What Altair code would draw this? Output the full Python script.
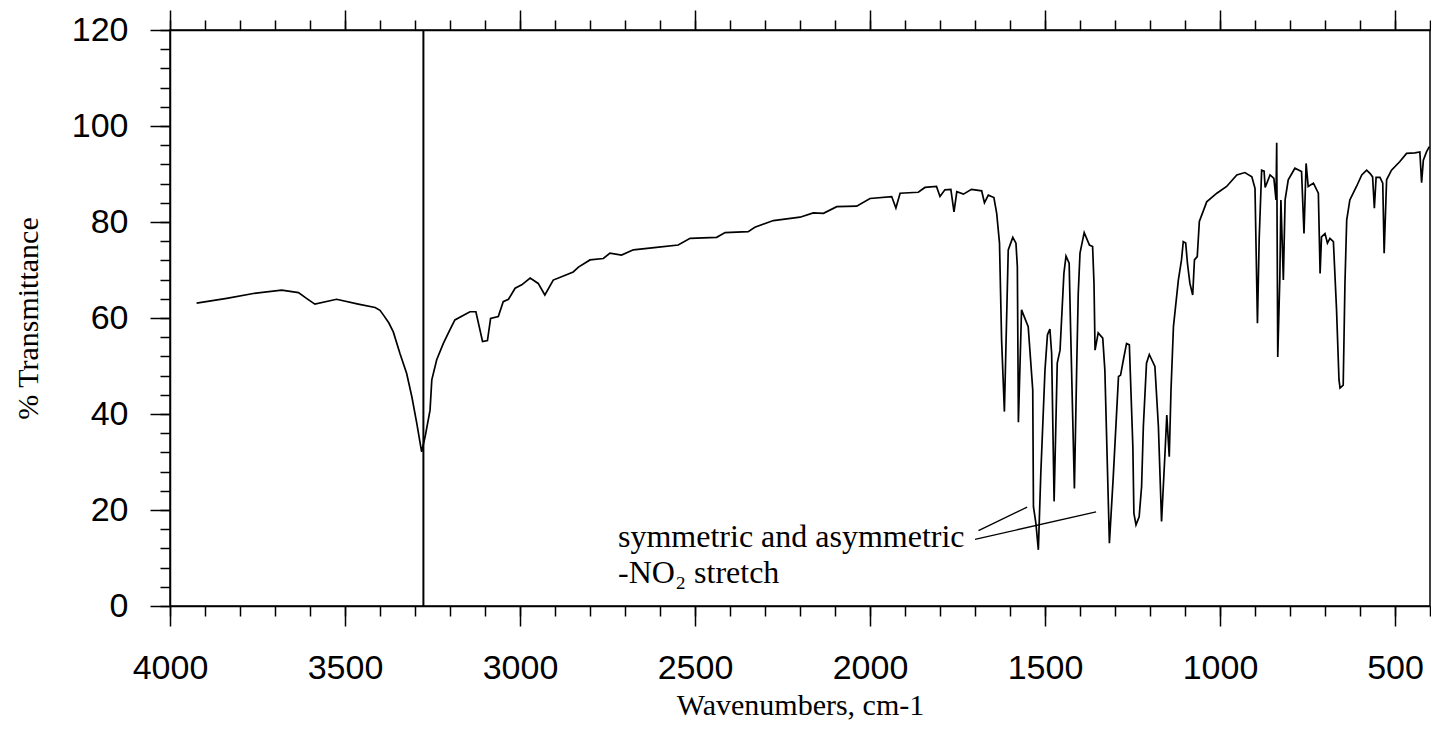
import altair as alt
import pandas as pd

# Spectrum: wavenumber (cm-1) and % transmittance
wavenumbers = [3924, 3838, 3762, 3681, 3633, 3610, 3586, 3524, 3462, 3414, 3400, 3390, 3375, 3362, 3343, 3324, 3309, 3295,
               3281, 3271, 3257, 3252, 3238, 3219, 3200, 3186, 3143, 3126, 3107, 3093, 3084, 3062, 3048, 3033, 3014,
               2995, 2971, 2948, 2929, 2905, 2876, 2848, 2833, 2800, 2762, 2743, 2710, 2676, 2610, 2548, 2514,
               2438, 2414, 2348, 2329, 2276, 2200, 2162, 2133, 2095, 2038, 2000, 1938, 1926, 1914, 1862, 1843,
               1810, 1800, 1786, 1769, 1760, 1752, 1733, 1710, 1681, 1673, 1662, 1646, 1638, 1630, 1624, 1616,
               1605, 1592, 1583, 1579, 1576, 1567, 1548, 1535, 1533, 1526, 1519, 1512, 1500, 1493, 1486, 1481,
               1474, 1465, 1457, 1446, 1440, 1431, 1427, 1416, 1409, 1405, 1400, 1388, 1373, 1364, 1360, 1357,
               1348, 1335, 1329, 1316, 1305, 1290, 1284, 1276, 1267, 1259, 1249, 1246, 1240, 1231, 1224, 1219,
               1210, 1202, 1195, 1186, 1176, 1167, 1157, 1152, 1145, 1140, 1133, 1119, 1110, 1105, 1098, 1093,
               1086, 1078, 1073, 1065, 1059, 1038, 1009, 981, 952, 929, 909, 900, 893, 888, 881, 874,
               871, 857, 846, 840, 838, 835, 829, 826, 819, 814, 805, 786, 767, 760, 754, 748,
               733, 719, 714, 710, 700, 693, 686, 676, 667, 660, 657, 648, 643, 638, 629, 610,
               595, 581, 571, 564, 559, 554, 543, 535, 531, 524, 510, 486, 467, 443, 429, 424,
               419, 410, 402]
transmittance = [63.1, 64.1, 65.1, 65.8, 65.3, 64.1, 62.9, 63.9, 62.9, 62.2, 61.6, 60.6, 59.0, 57.1, 52.6, 48.5, 43.6, 38.1,
                 32.1, 35.3, 40.8, 47.1, 51.3, 54.7, 57.6, 59.6, 61.3, 61.3, 55.1, 55.3, 59.9, 60.3, 63.4, 63.9, 66.2,
                 66.9, 68.3, 67.2, 64.8, 67.9, 68.75, 69.6, 70.6, 72.1, 72.4, 73.5, 73.1, 74.2, 74.7, 75.2, 76.6,
                 76.8, 77.8, 78.0, 78.9, 80.3, 81.0, 81.9, 81.8, 83.2, 83.3, 84.9, 85.3, 82.9, 86.0, 86.2, 87.2,
                 87.4, 85.3, 86.7, 86.8, 82.1, 86.3, 85.8, 86.8, 86.5, 84.0, 85.6, 85.1, 81.8, 75.6, 55.4, 40.5,
                 74.2, 76.8, 75.6, 70.7, 38.3, 61.7, 58.2, 45.0, 20.7, 17.2, 11.7, 27.6, 49.2, 56.5, 57.7, 52.6,
                 21.8, 50.6, 53.3, 69.3, 72.9, 71.4, 58.2, 24.5, 51.3, 65.1, 73.5, 77.8, 75.2, 74.9, 67.2, 53.3,
                 56.9, 55.8, 49.2, 13.1, 26.9, 47.8, 48.1, 51.3, 54.7, 54.4, 33.2, 19.3, 16.9, 18.6, 24.9, 37.4,
                 50.6, 52.4, 51.3, 49.9, 37.4, 17.6, 32.1, 39.8, 31.1, 45.0, 58.2, 67.9, 72.1, 75.9, 75.6, 71.4,
                 67.2, 64.8, 72.1, 72.8, 80.1, 84.2, 86.0, 87.4, 89.8, 90.3, 89.4, 87.0, 58.9, 76.6, 90.8, 90.6,
                 87.2, 89.8, 89.1, 84.6, 96.5, 51.9, 68.6, 84.6, 67.9, 84.6, 88.8, 91.2, 90.5, 77.6, 92.2, 87.4,
                 88.1, 86.0, 69.3, 76.9, 77.6, 75.6, 76.6, 75.9, 61.7, 47.1, 45.4, 46.0, 67.2, 80.4, 84.6, 87.4,
                 89.8, 90.8, 90.1, 89.4, 82.9, 89.3, 89.3, 88.1, 73.5, 88.8, 90.8, 92.6, 94.3, 94.4, 94.6, 88.2,
                 92.9, 94.6, 95.7]

# Full-height marker line
marker_wn = [3276]
marker_lo = [0]
marker_hi = [120]

# Annotation text
note_labels = ["symmetric and asymmetric", "-NO\u2082 stretch"]
note_wn = [2720, 2720]
note_t = [12.3, 4.7]

# Leader lines
lead_wn1 = [1690, 1700]
lead_t1 = [15.7, 13.9]
lead_wn2 = [1551, 1354]
lead_t2 = [20.6, 19.6]

# Axis tick values
x_major = [4000, 3500, 3000, 2500, 2000, 1500, 1000, 500]
x_minor = list(range(4000, 399, -100))
y_major = [0, 20, 40, 60, 80, 100, 120]
y_minor = list(range(0, 121, 4))

spec_df = pd.DataFrame({"wn": wavenumbers, "T": transmittance})
marker_df = pd.DataFrame({"wn": marker_wn, "lo": marker_lo, "hi": marker_hi})
note_df = pd.DataFrame({"wn": note_wn, "T": note_t, "label": note_labels})
lead_df = pd.DataFrame({"x1": lead_wn1, "y1": lead_t1, "x2": lead_wn2, "y2": lead_t2})

xs = alt.Scale(domain=[400, 4000], reverse=True, nice=False, zero=False)
ys = alt.Scale(domain=[0, 120], nice=False, zero=False)

common = dict(grid=False, tickColor="black", tickWidth=1.5, domainColor="black", domainWidth=1.5,
              labelFlush=False, labelOverlap=False)

ax_bottom_major = alt.Axis(orient="bottom", values=x_major, tickSize=20, format="d",
                           labelFont="Liberation Sans", labelFontSize=34, labelColor="black",
                           labelPadding=25, title="Wavenumbers, cm-1", titleFont="Liberation Serif",
                           titleFontSize=30, titleFontWeight="normal", titleColor="black",
                           titleX=630, titleY=99, titleAlign="center", titleBaseline="middle", **common)
ax_bottom_minor = alt.Axis(orient="bottom", values=x_minor, tickSize=10, labels=False, domain=False,
                           title=None, **common)
ax_top_major = alt.Axis(orient="top", values=x_major, tickSize=20, labels=False, title=None, **common)
ax_top_minor = alt.Axis(orient="top", values=x_minor, tickSize=10, labels=False, domain=False,
                        title=None, **common)
ay_left_major = alt.Axis(orient="left", values=y_major, tickSize=20, format="d",
                         labelFont="Liberation Sans", labelFontSize=34, labelColor="black",
                         labelPadding=22, title="% Transmittance", titleFont="Liberation Serif",
                         titleFontSize=30, titleFontWeight="normal", titleColor="black",
                         titleX=-142, titleY=288, titleAngle=-90, titleAlign="center",
                         titleBaseline="middle", **common)
ay_left_minor = alt.Axis(orient="left", values=y_minor, tickSize=10, labels=False, domain=False,
                         title=None, **common)

spectrum = alt.Chart(spec_df).mark_line(color="black", strokeWidth=1.7).encode(
    x=alt.X("wn:Q", scale=xs, axis=ax_bottom_major),
    y=alt.Y("T:Q", scale=ys, axis=ay_left_major),
    order=alt.Order("wn:Q", sort="descending"),
)

marker = alt.Chart(marker_df).mark_rule(color="black", strokeWidth=2).encode(
    x=alt.X("wn:Q", scale=xs, axis=ax_bottom_minor),
    y=alt.Y("lo:Q", scale=ys, axis=ay_left_minor),
    y2="hi:Q",
)

notes = alt.Chart(note_df).mark_text(font="Liberation Serif", fontSize=32, align="left",
                                     baseline="alphabetic", color="black").encode(
    x=alt.X("wn:Q", scale=xs, axis=ax_top_major),
    y=alt.Y("T:Q", scale=ys, axis=None),
    text="label:N",
)

leaders = alt.Chart(lead_df).mark_rule(color="black", strokeWidth=1.3).encode(
    x=alt.X("x1:Q", scale=xs, axis=ax_top_minor),
    x2="x2:Q",
    y=alt.Y("y1:Q", scale=ys, axis=None),
    y2="y2:Q",
)

chart = alt.layer(spectrum, marker, notes, leaders).resolve_axis(
    x="independent", y="independent"
).properties(
    width=1260, height=576,
    padding={"left": 170, "top": 30, "right": 1, "bottom": 139},
    autosize=alt.AutoSizeParams(type="none"),
    background="white",
).configure_view(stroke="black", strokeWidth=1.5)

chart.save("out.html", embed_options={"renderer": "svg", "actions": False})
